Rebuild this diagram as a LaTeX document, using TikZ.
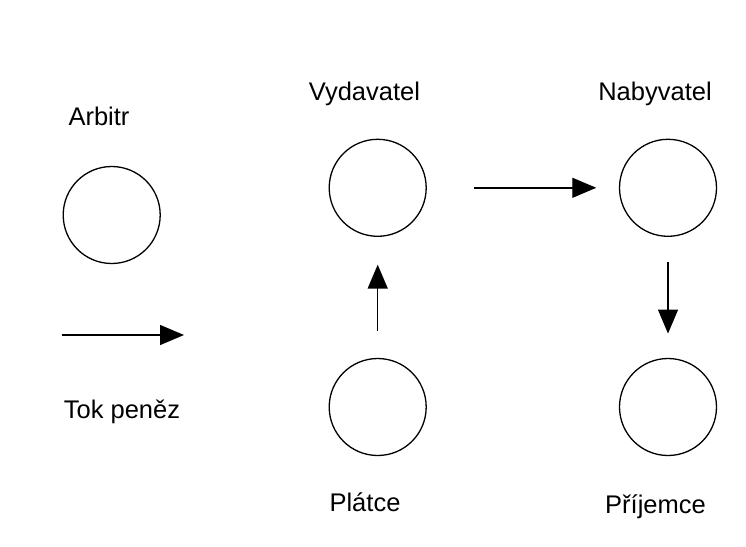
\documentclass[tikz,border=0pt]{standalone}
\usepackage{fontspec}
\setmainfont{Liberation Sans}
\usetikzlibrary{arrows.meta}
\tikzset{
  party/.style={circle, draw, line width=1.3pt, minimum size=97pt, inner sep=0pt},
  caption/.style={anchor=base, inner sep=0pt, font=\fontsize{25.5}{30}\selectfont},
  flow/.style={line width=1.4pt, -{Triangle[length=24pt,width=20pt]}}
}
\begin{document}
\begin{tikzpicture}[x=1pt,y=-1pt]
  \useasboundingbox[fill=white] (0,0) rectangle (746,546);

  % parties
  \node[party] (arb) at (111.7,215) {};
  \node[party] (vyd) at (377.7,187.8) {};
  \node[party] (nab) at (668,187.8) {};
  \node[party] (pla) at (377.7,407) {};
  \node[party] (pri) at (668,407) {};

  % captions
  \node[caption] (tArb) at (99,125) {Arbitr};
  \node[caption] (tVyd) at (364.5,100) {Vydavatel};
  \node[caption] (tNab) at (655,100) {Nabyvatel};
  \node[caption] (tTok) at (122,418.3) {Tok peněz};
  \node[caption] (tPla) at (365,511.7) {Plátce};
  \node[caption] (tPri) at (655.5,513) {Příjemce};

  % legend arrow
  \coordinate (legA) at (61.7,335);
  \coordinate (legB) at (184,335);
  \draw[flow] (legA) -- (legB);

  % money flow
  \draw[flow, shorten <=46.7pt, shorten >=22.6pt] (vyd.east) -- (nab.west);
  \draw[flow, shorten <=26.6pt, shorten >=27.7pt] (pla.north) -- (vyd.south);
  \draw[flow, shorten <=25.4pt, shorten >=24.3pt] (nab.south) -- (pri.north);
\end{tikzpicture}
\end{document}
